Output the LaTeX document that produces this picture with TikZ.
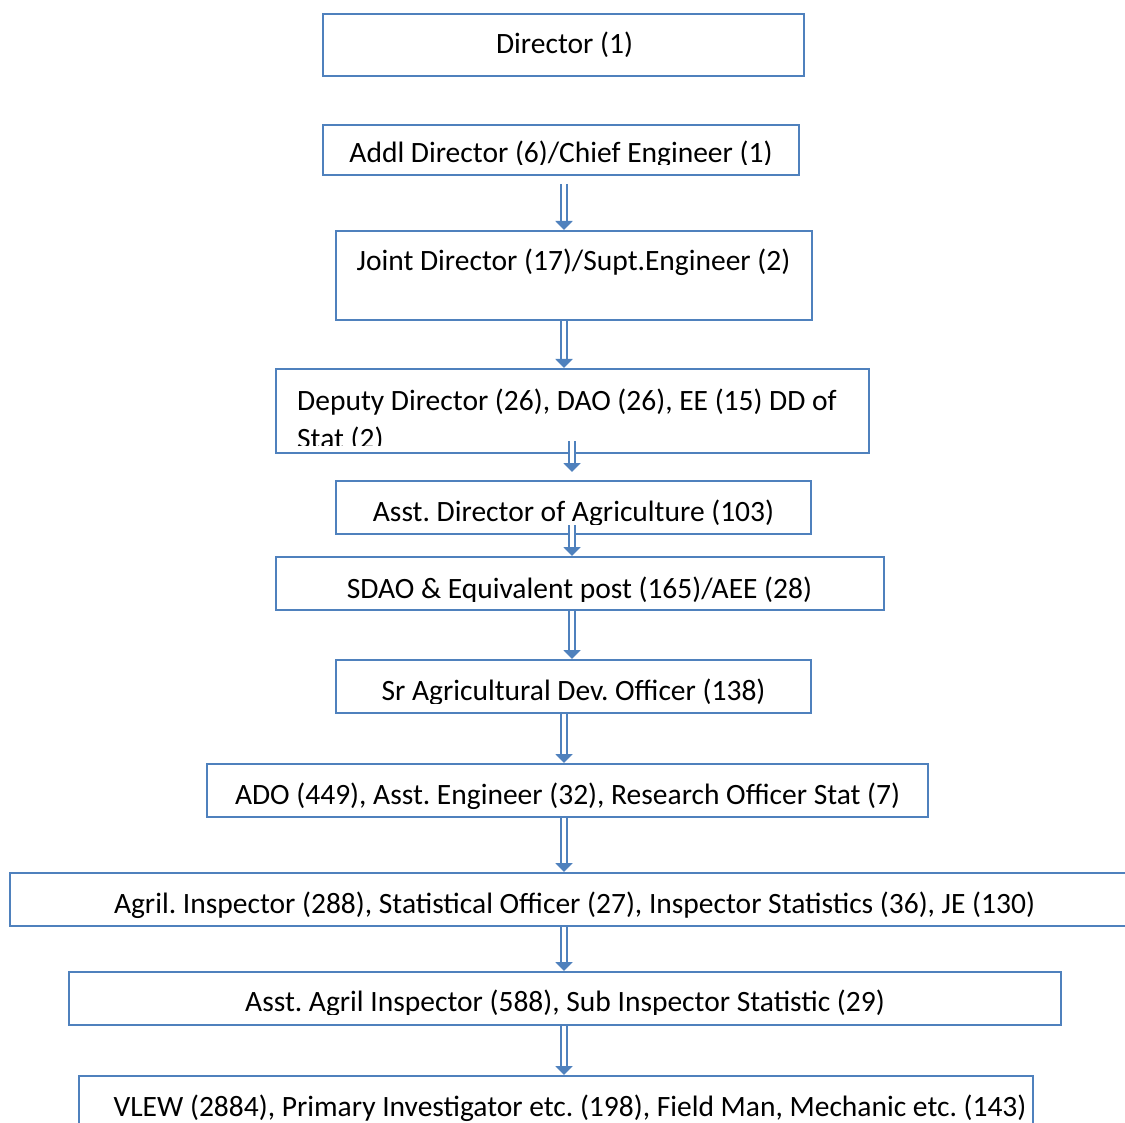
\documentclass[tikz,border=0pt]{standalone}
\usepackage{fontspec}
\setmainfont{Carlito}
\usetikzlibrary{arrows.meta}
\definecolor{boxblue}{RGB}{79,129,189}
\frenchspacing
\tikzset{
  post/.style={draw=boxblue, line width=2pt, rectangle, inner sep=0pt},
  lbl/.style={font=\fontsize{29.5}{38}\selectfont, inner sep=0pt},
  flow/.style={draw=boxblue, line width=2pt, double=white, double distance=3.5pt,
    -{Triangle[width=17pt,length=9pt]}}
}
\begin{document}
\begin{tikzpicture}[x=1pt,y=-1pt]
  \useasboundingbox (0,0) rectangle (1125,1123);
  \fill[white] (0,0) rectangle (1125,1123);

  \node[post, minimum width=481pt, minimum height=62pt] (dir) at (563.5,45) {};
  \node[post, minimum width=476pt, minimum height=50pt] (addl) at (561,150) {};
  \node[post, minimum width=476pt, minimum height=89pt] (jd) at (574,275.5) {};
  \node[post, minimum width=593pt, minimum height=84pt] (dd) at (572.5,411) {};
  \node[post, minimum width=475pt, minimum height=53pt] (ada) at (573.5,507.5) {};
  \node[post, minimum width=608pt, minimum height=53pt] (sdao) at (580,583.5) {};
  \node[post, minimum width=475pt, minimum height=53pt] (sado) at (573.5,686.5) {};
  \node[post, minimum width=721pt, minimum height=53pt] (ado) at (567.5,790.5) {};
  \node[post, minimum width=1140pt, minimum height=53pt] (ai) at (580,899.5) {};
  \node[post, minimum width=992pt, minimum height=53pt] (aai) at (565,998.5) {};
  \node[post, minimum width=954pt, minimum height=80pt] (vlew) at (556,1116) {};

  \node[lbl, anchor=base] (dirT) at (564.5,54) {Director (1)};
  \begin{scope}
    \clip (323,125) rectangle (799,165);
    \node[lbl, anchor=base] (addlT) at (561,163) {Addl Director (6)/Chief Engineer (1)};
  \end{scope}
  \node[lbl, anchor=base] (jdT) at (573.5,271) {Joint Director (17)/Supt.Engineer (2)};
  \begin{scope}
    \clip (276,369) rectangle (869,445);
    \node[lbl, anchor=base west, align=left] (ddT) at (297,448)
      {Deputy Director (26), DAO (26), EE (15) DD of\\Stat (2)};
  \end{scope}
  \begin{scope}
    \clip (336,481) rectangle (811,524);
    \node[lbl, anchor=base] (adaT) at (573.5,521) {Asst. Director of Agriculture (103)};
  \end{scope}
  \begin{scope}
    \clip (276,557) rectangle (884,601);
    \node[lbl, anchor=base] (sdaoT) at (579.5,598) {SDAO \& Equivalent post (165)/AEE (28)};
  \end{scope}
  \begin{scope}
    \clip (336,660) rectangle (811,703);
    \node[lbl, anchor=base] (sadoT) at (573.5,700) {Sr Agricultural Dev. Officer (138)};
  \end{scope}
  \node[lbl, anchor=base] (adoT) at (567.5,804) {ADO (449), Asst. Engineer (32), Research Officer Stat (7)};
  \node[lbl, anchor=base] (aiT) at (574.5,913) {Agril. Inspector (288), Statistical Officer (27), Inspector Statistics (36), JE (130)};
  \begin{scope}
    \clip (69,972) rectangle (1061,1014);
    \node[lbl, anchor=base] (aaiT) at (565,1011) {Asst. Agril Inspector (588), Sub Inspector Statistic (29)};
  \end{scope}
  \node[lbl, anchor=base] (vlewT) at (570,1116) {VLEW (2884), Primary Investigator etc. (198), Field Man, Mechanic etc. (143)};

  \draw[flow] ([yshift=-8pt]564,0 |- addl.south) -- (564,0 |- jd.north);
  \draw[flow] (564,0 |- jd.south) -- (564,0 |- dd.north);
  \draw[flow] ([yshift=13pt]572,0 |- dd.south) -- ([yshift=8pt]572,0 |- ada.north);
  \draw[flow] ([yshift=10pt]572,0 |- ada.south) -- (572,0 |- sdao.north);
  \draw[flow] (572,0 |- sdao.south) -- (572,0 |- sado.north);
  \draw[flow] (564,0 |- sado.south) -- (564,0 |- ado.north);
  \draw[flow] (564,0 |- ado.south) -- (564,0 |- ai.north);
  \draw[flow] (564,0 |- ai.south) -- (564,0 |- aai.north);
  \draw[flow] (564,0 |- aai.south) -- (564,0 |- vlew.north);

\end{tikzpicture}
\end{document}
